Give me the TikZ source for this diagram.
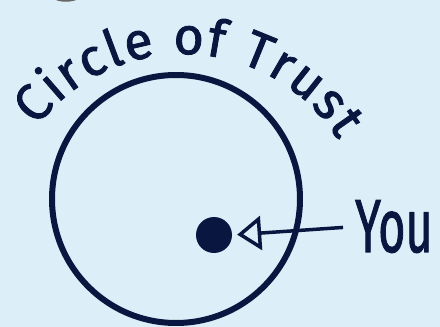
\documentclass[tikz,border=0pt]{standalone}
\usepackage{fontspec}
\setmainfont{Fira Sans}
\newfontfamily\handfont[FakeBold=1.6]{Fira Sans}
\usetikzlibrary{arrows.meta,decorations.text}
\definecolor{navy}{RGB}{8,22,64}
\definecolor{paleblue}{RGB}{220,238,248}
\begin{document}
\begin{tikzpicture}[x=1pt,y=1pt]
    \fill[paleblue] (0,0) rectangle (440,327);
    \useasboundingbox (0,0) rectangle (440,327);

    % 上端の切れた文字
    \draw[gray!80!black, line width=3.5pt] (66,357) ++(243:30) arc[start angle=243, end angle=297, radius=30];

    % 信頼の円
    \coordinate (O) at (176,128);
    \draw[navy, line width=6pt] (O) circle (124);

    % 円弧に沿った題字
    \coordinate (T) at (183,90);
    \path[decorate, decoration={text along path, text align=fit to path,
        text={|\handfont\fontsize{52}{52}\selectfont\color{navy}|Circle of Trust}}]
      (T) ++(143:183) arc[start angle=143, end angle=32, radius=183];

    % 自分
    \node[circle, fill=navy, minimum size=36pt, inner sep=0pt] (me) at (214,92) {};
    \node[anchor=base west, inner sep=0pt, text=navy, font=\handfont\fontsize{60}{60}\selectfont,
      xscale=0.78, yscale=1.25, transform shape] (you) at (355,75) {You};
    \draw[navy, line width=3.5pt, -{Triangle[open, length=24pt, width=34pt]},
      shorten <=12pt, shorten >=5pt] (you.west) -- (me.east);
  \end{tikzpicture}
\end{document}
